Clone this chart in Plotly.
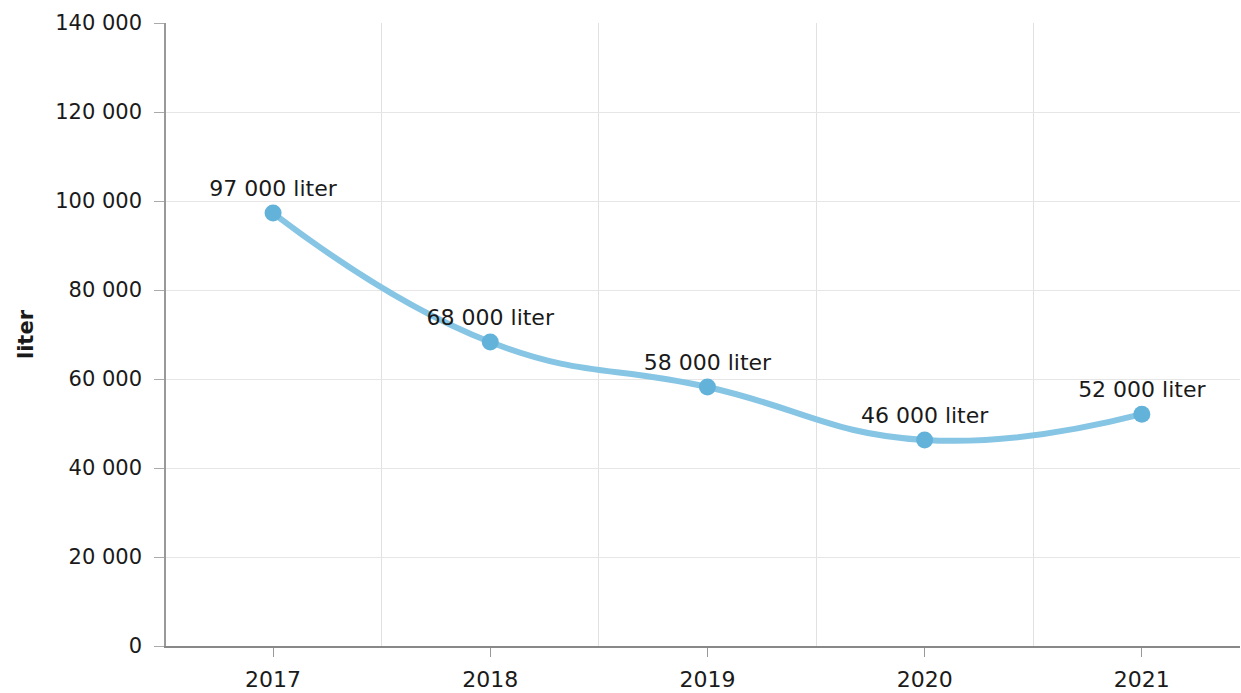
import plotly.graph_objects as go

years = ["2017", "2018", "2019", "2020", "2021"]
values = [97300, 68300, 58200, 46300, 52100]
labels = ["97 000 liter", "68 000 liter", "58 000 liter", "46 000 liter", "52 000 liter"]
y_ticks = [0, 20000, 40000, 60000, 80000, 100000, 120000, 140000]

xpos = list(range(len(years)))
FONT = "Verdana, DejaVu Sans, sans-serif"
TXT = "#1a1a1a"

fig = go.Figure()
fig.add_trace(go.Scatter(
    x=xpos, y=values, mode="lines+markers+text",
    line=dict(color="#86c5e4", width=6, shape="spline", smoothing=1.3),
    marker=dict(color="#62b2da", size=17),
    text=labels, textposition="top center",
    textfont=dict(family=FONT, size=22, color=TXT),
    cliponaxis=False, hoverinfo="skip",
))

fig.update_layout(
    width=1241, height=693,
    margin=dict(l=166, r=1, t=23, b=47),
    paper_bgcolor="white", plot_bgcolor="white",
    showlegend=False,
    separators=". ",
    font=dict(family=FONT, size=21, color=TXT),
)
fig.update_xaxes(
    range=[-0.493, 4.452], automargin=False,
    tickmode="array", tickvals=xpos, ticktext=years,
    showgrid=False, zeroline=False,
    showline=True, linecolor="#888888", linewidth=1.5,
    ticks="outside", ticklen=9, tickcolor="#999999",
    ticklabelstandoff=4,
    tickfont=dict(family=FONT, size=22, color=TXT),
    minor=dict(tickvals=[0.5, 1.5, 2.5, 3.5], showgrid=True,
               gridcolor="#e1e1e1", gridwidth=1.2, ticks=""),
)
fig.update_yaxes(
    range=[0, 140000], automargin=False,
    tickmode="array", tickvals=y_ticks, tickformat=",d",
    showgrid=True, gridcolor="#e6e6e6", gridwidth=1.2, zeroline=False,
    showline=True, linecolor="#999999", linewidth=1.5,
    ticks="outside", ticklen=10, tickcolor="#aaaaaa",
    ticklabelstandoff=8,
    tickfont=dict(family=FONT, size=21, color=TXT),
    title=dict(text="<b>liter</b>", font=dict(family=FONT, size=21, color=TXT), standoff=16),
)

fig.write_html("out.html", config={"displayModeBar": False},
               post_script="document.body.style.margin='0';")
